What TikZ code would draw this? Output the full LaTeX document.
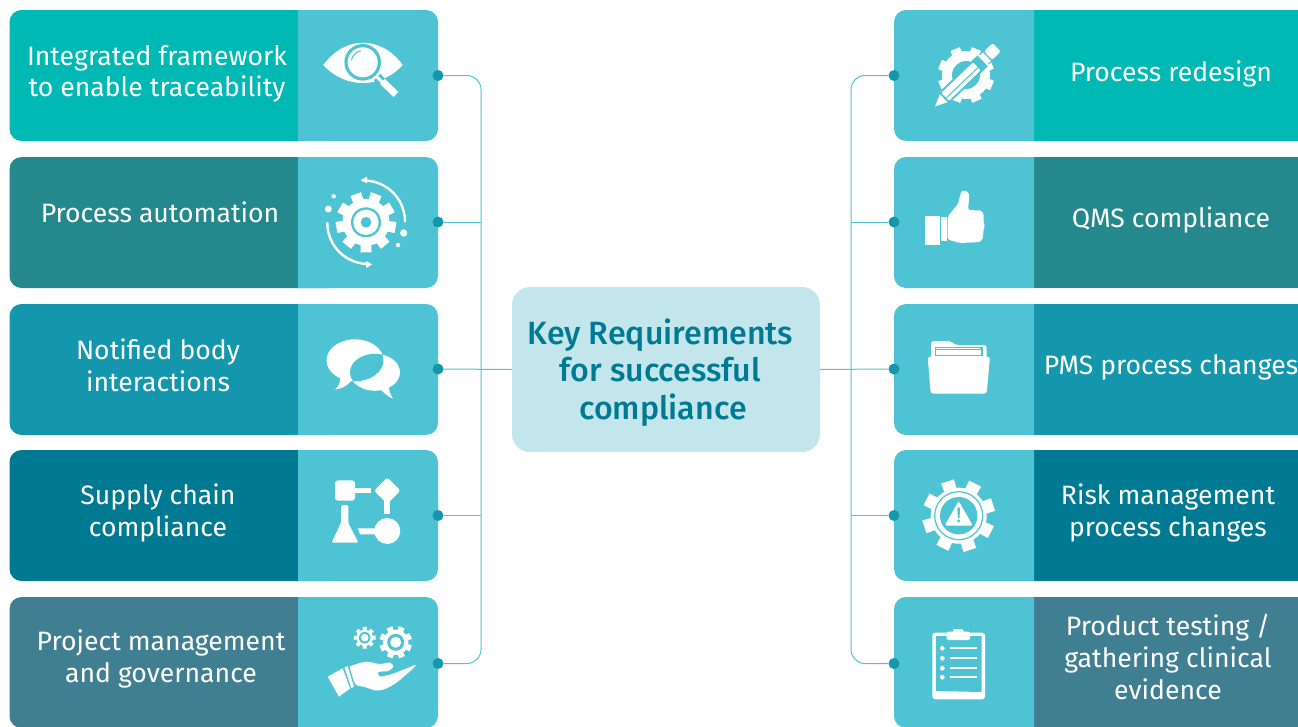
\documentclass[tikz,border=0pt]{standalone}
\usepackage{fontspec}
\setmainfont{Fira Sans}
\newfontfamily\medfont{Fira Sans Medium}
\usetikzlibrary{calc}
\definecolor{panelc}{HTML}{4EC3D3}
\definecolor{cA}{HTML}{00B9B5}
\definecolor{cB}{HTML}{24888C}
\definecolor{cC}{HTML}{1497AC}
\definecolor{cD}{HTML}{007A92}
\definecolor{cE}{HTML}{407F92}
\definecolor{cenc}{HTML}{C3E6ED}
\tikzset{
  rowtext/.style={text=white,align=center,font=\fontsize{26.6}{31.6}\selectfont,inner sep=0pt},
  centext/.style={text=cD,align=center,font=\medfont\fontsize{32.2}{37.5}\selectfont,inner sep=0pt},
  cenbox/.style={fill=cenc,rounded corners=18,minimum width=308pt,minimum height=165pt,inner sep=0pt},
  dotnode/.style={circle,fill=cC,minimum size=11pt,inner sep=0pt},
  conn/.style={draw=panelc,line width=1pt},
  ic/.style={fill=white,draw=none},
  cut/.style={fill=panelc,draw=none}
}
\newcommand\leftrow[2]{%
  \fill[#2,rounded corners=12] (9.5,#1) rectangle (340,#1+131);
  \fill[panelc] (298,#1) [rounded corners=12] -- (438,#1) -- (438,#1+131) [sharp corners] -- (298,#1+131) -- cycle;
}
\newcommand\rightrow[2]{%
  \fill[#2] (1000,#1) rectangle (1310,#1+131);
  \fill[panelc] (1034,#1) [rounded corners=12] -- (894,#1) -- (894,#1+131) [sharp corners] -- (1034,#1+131) -- cycle;
}
% cx cy router rbody teeth offset halfangle
\newcommand\mygear[7]{%
  \begin{scope}[shift={(#1,#2)}]
    \fill[ic] (0,0) circle[radius=#4];
    \foreach \i in {1,...,#5}{
      \pgfmathsetmacro\aa{#6+360*\i/#5}
      \fill[ic] ({\aa-#7*1.3}:{#4-1}) -- ({\aa-#7}:#3) -- ({\aa+#7}:#3) -- ({\aa+#7*1.3}:{#4-1}) -- cycle;
    }
  \end{scope}
}
\begin{document}
\begin{tikzpicture}[x=1pt,y=-1pt]
\useasboundingbox (0,0) rectangle (1298,726);
\clip (0,0) rectangle (1298,726);
\leftrow{10}{cA}
\leftrow{157}{cB}
\leftrow{304}{cC}
\leftrow{450}{cD}
\leftrow{597}{cE}
\rightrow{10}{cA}
\rightrow{157}{cB}
\rightrow{304}{cC}
\rightrow{450}{cD}
\rightrow{597}{cE}
% texts
\node[rowtext] (tl1) at (157,74) {Integrated framework\\to enable traceability};
\node[rowtext] (tl2) at (160,212.5) {Process automation};
\node[rowtext] (tl3) at (158,365.5) {Notified body\\interactions};
\node[rowtext] (tl4) at (158,513) {Supply chain\\compliance};
\node[rowtext] (tl5) at (161,659) {Project management\\and governance};
\node[rowtext] (tr1) at (1171,74) {Process redesign};
\node[rowtext] (tr2) at (1171,219.5) {QMS compliance};
\node[rowtext] (tr3) at (1171,367.5) {PMS process changes};
\node[rowtext] (tr4) at (1168,513) {Risk management\\process changes};
\node[rowtext] (tr5) at (1168,657) {Product testing /\\gathering clinical\\evidence};
\node[cenbox] (cen) at (666,369.5) {};
\node[centext] (centxt) at (660.5,372.5) {Key Requirements\\for successful\\\hspace*{5pt}compliance};
% dots
\foreach \n/\y in {1/75.5,2/222,3/369,4/515.5,5/663.5}{
  \node[dotnode] (dl\n) at (438,\y) {};
  \node[dotnode] (dr\n) at (894,\y) {};
}
\coordinate (bl) at (481,369);
\coordinate (br) at (851,369);
% connectors
\draw[conn,rounded corners=14] (dl1.east) -| (bl) |- (dl5.east);
\draw[conn,rounded corners=14] (dr1.west) -| (br) |- (dr5.west);
\draw[conn] (dl2.east) -- (dl2.east -| bl);
\draw[conn] (dl4.east) -- (dl4.east -| bl);
\draw[conn] (dl3.east) -- (cen.west);
\draw[conn] (dr2.west) -- (dr2.west -| br);
\draw[conn] (dr4.west) -- (dr4.west -| br);
\draw[conn] (dr3.west) -- (cen.east);
% ---- icon L1 eye
\fill[ic] (323.3,65) .. controls (345,35.3) and (381,35.3) .. (402.7,65) .. controls (381,89) and (345,89) .. (323.3,65) -- cycle;
\fill[cut] (362.7,62.3) circle[radius=18.3];
\fill[ic] (362.7,62.3) circle[radius=15];
\draw[panelc,line width=1pt] (362.7,62.3) ++(190:11.5) arc[start angle=190,end angle=262,radius=11.5];
\draw[panelc,line width=9pt] (377,77) -- (384,84);
\draw[white,line width=3pt] (376,76) -- (383,83);
\draw[white,line width=7pt] (382.5,81.5) -- (396,94.5);
% ---- icon L2 gear arrows
\mygear{366}{222.3}{30.5}{23.5}{9}{10}{10.5}
\fill[cut] (366,222.3) circle[radius=15];
\fill[ic] (366,222.3) circle[radius=12.7];
\fill[cut] (366,222.3) circle[radius=5.3];
\draw[white,line width=2.4pt,line cap=round] (405,221.5) arc[start angle=0,end angle=-92,radius=41];
\fill[ic] (361,180) -- (367,176.6) -- (367,183.4) -- cycle;
\draw[white,line width=2.4pt,line cap=round] (327.3,223) arc[start angle=180,end angle=88,radius=41];
\fill[ic] (372,264.5) -- (366,261) -- (366,268) -- cycle;
\fill[ic] (328.3,209) circle[radius=3.5];
\fill[ic] (333.7,196.3) circle[radius=2.2];
\fill[ic] (403.7,233) circle[radius=3.6];
\fill[ic] (398,245) circle[radius=2.2];
% ---- icon L3 chat
\fill[ic] (355,360.3) ellipse[x radius=28.5,y radius=21];
\fill[ic] (340,376) .. controls (341,382) and (339,386) .. (335,389.5) .. controls (342,389) and (348,385) .. (352,380) -- cycle;
\fill[ic] (375,372.3) ellipse[x radius=25,y radius=18.5];
\fill[ic] (380,389) .. controls (385,394) and (389,397) .. (393,398.7) .. controls (390,394) and (389,390) .. (388.5,386) -- cycle;
\begin{scope}
  \clip (355,360.3) ellipse[x radius=28.5,y radius=21];
  \fill[cut] (375,372.3) ellipse[x radius=25,y radius=18.5];
\end{scope}
% ---- icon L4 flow
\fill[ic,rounded corners=3] (335,480.3) rectangle (355,500.7);
\fill[ic] (354,488) rectangle (371,493.2);
\fill[ic,rounded corners=2.5] (387.3,477.5) -- (400.5,490.7) -- (387.3,503.9) -- (374.1,490.7) -- cycle;
\fill[ic] (384.3,500) rectangle (390.3,514.3);
\fill[ic] (387.3,531) circle[radius=13];
\fill[ic] (357.7,528.3) -- (378,528.3) -- (378,534.3) -- (360,534.3) -- cycle;
\fill[ic,rounded corners=1.5] (341,505) -- (348.3,505) -- (348.3,523) -- (358.5,542.7) -- (331.5,542.7) -- (341,523) -- cycle;
% ---- icon L5 gears hand
\mygear{364.7}{637.7}{11}{8.2}{8}{0}{11}
\fill[cut] (364.7,637.7) circle[radius=5.8];
\fill[ic] (364.7,637.7) circle[radius=3.8];
\mygear{395.7}{642.3}{16.5}{12.7}{8}{22}{11}
\fill[cut] (395.7,642.3) circle[radius=8.5];
\fill[ic] (395.7,642.3) circle[radius=5.5];
\fill[ic] (327.7,676.7) -- (342.7,668.3) -- (350,688.5) -- (339,696.7) -- cycle;
\fill[ic] (344.5,667.5) -- (347.5,666) -- (354,686.5) -- (351.5,688.3) -- cycle;
\fill[ic] plot[smooth,tension=.5] coordinates {(349.5,666.5) (358,663.5) (367,661.7) (380,664) (390,662.5) (393.3,667) (388,671) (378.5,672) (380,676.5) (392,674) (405,669) (416,665) (408,673) (396,683) (385,689) (376,690.5) (365,687) (355.5,684) (349.5,666.5)};
% ---- icon R1 gear pencil
\mygear{966}{75}{28.5}{24}{8}{22}{10}
\fill[cut] (966,75) circle[radius=14];
\begin{scope}[shift={(935,106.5)},rotate=43.8]
  \fill[cut] (9,-7.5) rectangle (66,7.5);
  \fill[ic] (0,0) -- (12,-5.5) -- (12,5.5) -- cycle;
  \fill[ic,rounded corners=1] (14,-5.5) rectangle (58,5.5);
  \fill[cut] (14,1.1) rectangle (58,2.1);
  \fill[cut] (76,-7) rectangle (68,7);
  \fill[ic] (66.5,-5.8) rectangle (72,5.8);
  \fill[ic,rounded corners=1.5] (73.5,-5.8) rectangle (85.5,5.8);
\end{scope}
% ---- icon R2 thumb
\fill[ic] (925,216) rectangle (940,245);
\fill[ic] (941,216.7) rectangle (946.7,240.7);
\fill[ic,rounded corners=2] (947.5,216.7) -- (958,204) -- (960.5,194) .. controls (962,190) and (968,190) .. (969.3,196) -- (968,210) -- (982,210.5) -- (984.2,217) -- (983,221) -- (985,226) -- (983,231) -- (983.5,236) -- (981,242) -- (960,243) -- (947.5,239.5) -- cycle;
% ---- icon R3 folder
\fill[ic,rounded corners=2.5] (931,358) -- (931,341) -- (950,341) -- (956,345) -- (986.7,345) -- (986.7,358) -- cycle;
\fill[cut] (935,347.2) rectangle (983,356);
\fill[ic] (935.5,350) rectangle (981,354.5);
\fill[ic] (935.5,348) rectangle (980,349);
\fill[ic,rounded corners=2.5] (927.7,356.7) -- (990,356.7) -- (986.7,393.5) -- (930.7,393.5) -- cycle;
% ---- icon R4 gear warning
\mygear{958.7}{515.7}{36.7}{28}{8}{-18}{10.5}
\draw[panelc,line width=1.2pt] (958.7,515.7) circle[radius=24];
\fill[cut] (958.7,515.7) circle[radius=18.7];
\fill[ic,rounded corners=2] (958.7,501) -- (972.7,525.5) -- (944.7,525.5) -- cycle;
\fill[cut] (957.3,507.5) -- (960.1,507.5) -- (959.5,518) -- (957.9,518) -- cycle;
\fill[cut] (958.7,521) circle[radius=1.7];
% ---- icon R5 clipboard
\fill[ic,rounded corners=3] (932.3,632.7) rectangle (985,699.3);
\fill[cut] (936,636) -- (981.5,636) -- (981.5,692) -- (936,691) -- cycle;
\fill[ic,rounded corners=1.5] (946.7,631.7) rectangle (970,640);
\fill[ic,rounded corners=2] (953,629) rectangle (963.5,634);
\foreach \yy in {648.3,658.3,668.3,677.3}{
  \fill[ic] (942.3,\yy) circle[radius=2.3];
  \fill[ic] (950,\yy-1) rectangle (976.7,\yy+1);
}
\end{tikzpicture}
\end{document}
